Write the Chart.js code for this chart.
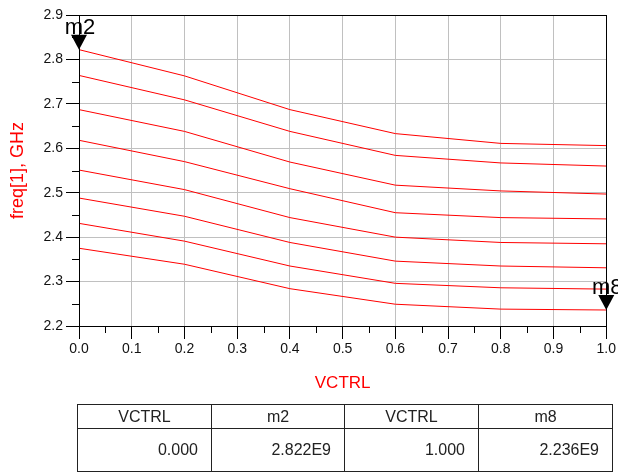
<!DOCTYPE html>
<html>
<head>
<meta charset="utf-8">
<script src="https://cdn.jsdelivr.net/npm/chart.js@4/dist/chart.umd.min.js"></script>
<style>
  html, body { margin:0; padding:0; background:#fff; }
  #wrap { position:relative; width:618px; height:476px; overflow:hidden; }
  canvas { position:absolute; left:0; top:0; }
  #tbl { position:absolute; left:77px; top:404px; border-collapse:collapse;
         font-family:'Liberation Sans', Arial, sans-serif; font-size:16px; color:#222; }
  #tbl td { border:1px solid #222; padding:0; }
  #tbl tr.h td { height:23px; text-align:center; }
  #tbl tr.d td { height:42px; text-align:right; padding-right:13px; }
</style>
</head>
<body>
<div id="wrap">
  <canvas id="c" width="618" height="476"></canvas>
  <table id="tbl"></table>
</div>
<script>
// ---- data ----
const vctrl = [0.0, 0.2, 0.4, 0.6, 0.8, 1.0];
const freq1 = [2.822, 2.763, 2.687, 2.633, 2.611, 2.606];
const freq2 = [2.764, 2.709, 2.638, 2.584, 2.567, 2.560];
const freq3 = [2.687, 2.638, 2.569, 2.517, 2.504, 2.497];
const freq4 = [2.618, 2.570, 2.509, 2.455, 2.444, 2.441];
const freq5 = [2.551, 2.507, 2.444, 2.400, 2.388, 2.385];
const freq6 = [2.488, 2.447, 2.388, 2.346, 2.335, 2.331];
const freq7 = [2.431, 2.391, 2.335, 2.296, 2.286, 2.283];
const freq8 = [2.375, 2.339, 2.284, 2.249, 2.238, 2.236];
const xTicks = [0.0, 0.1, 0.2, 0.3, 0.4, 0.5, 0.6, 0.7, 0.8, 0.9, 1.0];
const yTicks = [2.2, 2.3, 2.4, 2.5, 2.6, 2.7, 2.8, 2.9];
const markerNames = ['m2', 'm8'];
const markerX = [0.000, 1.000];
const markerY = [2.822, 2.236];
const tableHead = ['VCTRL', 'm2', 'VCTRL', 'm8'];
const tableVals = ['0.000', '2.822E9', '1.000', '2.236E9'];

const series = [freq1, freq2, freq3, freq4, freq5, freq6, freq7, freq8];
const FONT = "'Liberation Sans', Arial, sans-serif";

// table
(function(){
  const t = document.getElementById('tbl');
  const widths = [133, 132, 133, 133];
  let h = '<tr class="h">' + tableHead.map((s,i)=>'<td style="width:'+widths[i]+'px">'+s+'</td>').join('') + '</tr>';
  h += '<tr class="d">' + tableVals.map(s=>'<td>'+s+'</td>').join('') + '</tr>';
  t.innerHTML = h;
})();

const extras = {
  id: 'extras',
  afterDraw(chart) {
    const {ctx, chartArea:a, scales:{x, y}} = chart;
    ctx.save();
    ctx.strokeStyle = '#000';
    ctx.lineWidth = 1;
    // frame
    ctx.strokeRect(Math.round(a.left)+0.5, Math.round(a.top)+0.5, Math.round(a.right)-Math.round(a.left), Math.round(a.bottom)-Math.round(a.top));
    // minor ticks
    ctx.beginPath();
    for (let i = 0; i < yTicks.length - 1; i++) {
      const v = (yTicks[i] + yTicks[i+1]) / 2;
      const py = Math.round(y.getPixelForValue(v)) + 0.5;
      ctx.moveTo(a.left - 7, py); ctx.lineTo(a.left, py);
    }
    for (let i = 0; i < xTicks.length - 1; i++) {
      const v = (xTicks[i] + xTicks[i+1]) / 2;
      const px = Math.round(x.getPixelForValue(v)) + 0.5;
      ctx.moveTo(px, a.bottom); ctx.lineTo(px, a.bottom + 7);
    }
    ctx.stroke();
    // markers
    ctx.fillStyle = '#000';
    ctx.font = '22px ' + FONT;
    ctx.textAlign = 'center';
    ctx.textBaseline = 'alphabetic';
    for (let i = 0; i < markerNames.length; i++) {
      const px = x.getPixelForValue(markerX[i]);
      const py = y.getPixelForValue(markerY[i]);
      ctx.beginPath();
      ctx.moveTo(px, py);
      ctx.lineTo(px - 8, py - 15);
      ctx.lineTo(px + 8, py - 15);
      ctx.closePath();
      ctx.fill();
      ctx.fillText(markerNames[i], px + 1, py - 16);
    }
    ctx.restore();
  }
};

new Chart(document.getElementById('c'), {
  type: 'line',
  data: {
    datasets: series.map(s => ({
      data: vctrl.map((v, i) => ({x: v, y: s[i]})),
      borderColor: '#ff0000',
      borderWidth: 1,
      pointRadius: 0,
      tension: 0,
      fill: false
    }))
  },
  options: {
    responsive: false,
    animation: false,
    layout: { padding: { left: 0, top: 15, right: 10, bottom: 82 } },
    plugins: { legend: { display: false }, tooltip: { enabled: false } },
    scales: {
      x: {
        type: 'linear', min: 0, max: 1,
        afterBuildTicks: s => { s.ticks = xTicks.map(v => ({value: v})); },
        ticks: { callback: v => Number(v).toFixed(1), color: '#111', font: {family: FONT, size: 14}, padding: 2, maxRotation: 0, autoSkip: false },
        grid: { color: '#c0c0c0', tickColor: '#000', tickLength: 13, lineWidth: 1 },
        border: { color: '#000' },
        title: { display: true, text: 'VCTRL', color: '#ff0000', font: {family: FONT, size: 17}, padding: {top: 0, bottom: 0} },
        afterFit: s => { s.height = 68; }
      },
      y: {
        type: 'linear', min: 2.2, max: 2.9,
        afterBuildTicks: s => { s.ticks = yTicks.map(v => ({value: v})); },
        ticks: { callback: v => Number(v).toFixed(1), color: '#111', font: {family: FONT, size: 14}, padding: 3 },
        grid: { color: '#c0c0c0', tickColor: '#000', tickLength: 13, lineWidth: 1 },
        border: { color: '#000' },
        title: { display: true, text: 'freq[1], GHz', color: '#ff0000', font: {family: FONT, size: 18}, padding: {top: 7, bottom: 0} },
        afterFit: s => { s.width = 79; }
      }
    }
  },
  plugins: [extras]
});
</script>
</body>
</html>
